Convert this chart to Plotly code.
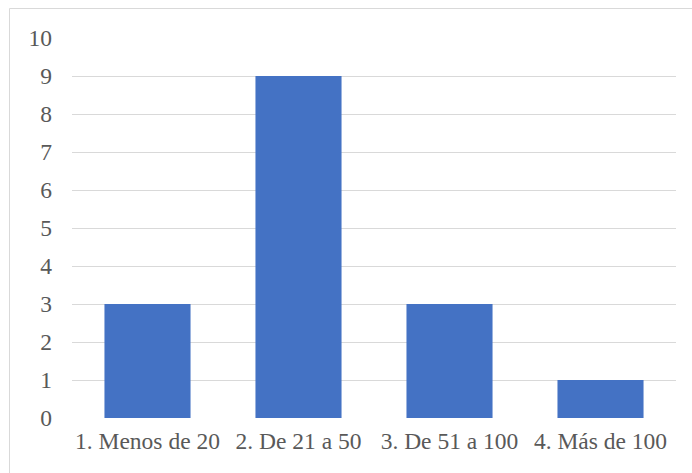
import plotly.graph_objects as go

categories = ["1. Menos de 20", "2. De 21 a 50", "3. De 51 a 100", "4. Más de 100"]
values = [3, 9, 3, 1]
y_ticks = list(range(0, 11))

W, H = 692, 473
L, R, T, B = 72, 16, 38, 55
pw, ph = W - L - R, H - T - B

fig = go.Figure(
    go.Bar(
        x=categories,
        y=values,
        marker=dict(color="#4472C4", line=dict(width=0)),
        hoverinfo="x+y",
    )
)

# outer chart border (left/top visible, right/bottom run past the page)
fig.add_shape(
    type="rect",
    xref="paper", yref="paper",
    x0=(9.5 - L) / pw, x1=(W + 5 - L) / pw,
    y0=(ph + T - (H + 5)) / ph, y1=(ph + T - 8.5) / ph,
    line=dict(color="#d9d9d9", width=1),
    fillcolor="rgba(0,0,0,0)",
    layer="below",
)

font = dict(family="Liberation Serif", size=23.5, color="#595959")

fig.update_layout(
    width=W, height=H,
    margin=dict(l=L, r=R, t=T, b=B),
    paper_bgcolor="white",
    plot_bgcolor="white",
    bargap=0.43,
    showlegend=False,
    font=font,
    xaxis=dict(
        showgrid=False, zeroline=False, showline=False, ticks="",
        tickfont=font, ticklabelstandoff=6,
    ),
    yaxis=dict(
        range=[0, 10], tickvals=y_ticks, ticktext=[str(v) for v in y_ticks],
        showgrid=True, gridcolor="#d9d9d9", gridwidth=1.3,
        zeroline=False, showline=False, ticks="",
        tickfont=font, ticklabelstandoff=19,
    ),
)

fig.write_html("out.html")
